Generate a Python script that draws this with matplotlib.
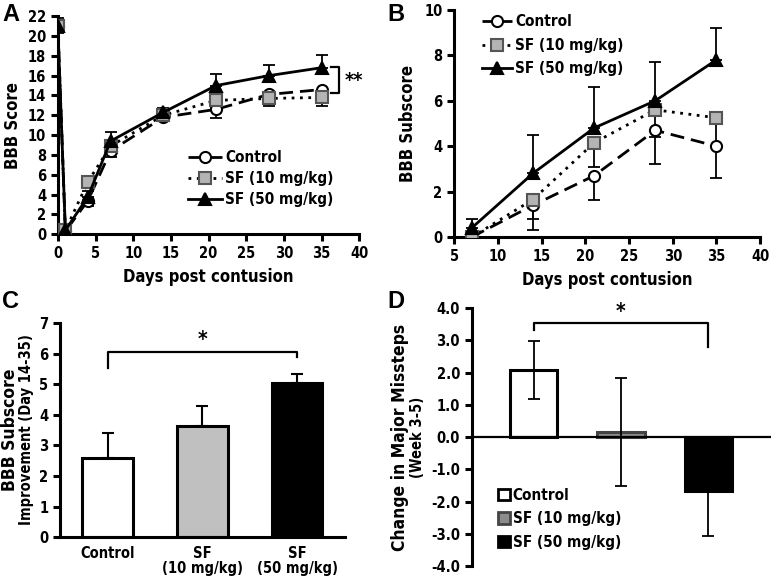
import matplotlib
matplotlib.use("Agg")
import matplotlib.pyplot as plt
from matplotlib.patches import Patch
import numpy as np

plt.rcParams['font.family'] = ['DejaVu Sans']
plt.rcParams['font.stretch'] = 'condensed'
plt.rcParams['font.weight'] = 'bold'

# ---------------- Data ----------------
days_a = [0, 1, 4, 7, 14, 21, 28, 35]
ctrl_a = [21.0, 0.3, 3.4, 8.4, 11.8, 12.6, 14.1, 14.6]
ctrl_a_err = [0.7, 0.2, 0.5, 0.6, 0.4, 0.9, 0.5, 0.8]
sf10_a = [21.0, 0.4, 5.3, 8.9, 12.0, 13.5, 13.7, 13.8]
sf10_a_err = [0.5, 0.2, 0.6, 0.6, 0.4, 0.8, 0.8, 0.9]
sf50_a = [21.0, 0.4, 3.8, 9.4, 12.3, 15.0, 16.0, 16.8]
sf50_a_err = [0.8, 0.2, 0.6, 0.9, 0.4, 1.2, 1.1, 1.3]

days_b = [7, 14, 21, 28, 35]
ctrl_b = [0.0, 1.4, 2.7, 4.7, 4.0]
ctrl_b_err = [0.1, 1.1, 1.05, 1.5, 1.4]
sf10_b = [0.0, 1.65, 4.15, 5.6, 5.25]
sf10_b_err = [0.1, 0.85, 1.05, 1.2, 1.3]
sf50_b = [0.4, 2.8, 4.8, 6.0, 7.8]
sf50_b_err = [0.4, 1.7, 1.8, 1.7, 1.4]

groups_c = ['Control', 'SF\n(10 mg/kg)', 'SF\n(50 mg/kg)']
vals_c = [2.6, 3.65, 5.05]
err_c = [0.8, 0.65, 0.28]

groups_d = ['Control', 'SF (10 mg/kg)', 'SF (50 mg/kg)']
vals_d = [2.08, 0.15, -1.67]
err_d = [0.9, 1.67, 1.4]

series_labels = ['Control', 'SF (10 mg/kg)', 'SF (50 mg/kg)']

# ---------------- Figure ----------------
fig = plt.figure(figsize=(7.71, 5.77), dpi=100)

TICK_FS = 10.5
LAB_FS = 12
LEG_FS = 11
SP_W = 2.2
LETTER = dict(fontsize=17, fontweight='bold', family='Liberation Sans', stretch='normal',
              va='top', ha='left')


def style_axes(ax):
    for s in ['top', 'right']:
        ax.spines[s].set_visible(False)
    for s in ['left', 'bottom']:
        ax.spines[s].set_linewidth(SP_W)
    ax.tick_params(direction='out', width=SP_W, length=5, labelsize=TICK_FS)
    for lab in ax.get_xticklabels() + ax.get_yticklabels():
        lab.set_fontweight('bold')


styles = [
    dict(ls=(0, (5, 2.5)), marker='o', mfc='white', mec='black', color='black', ms=8),
    dict(ls=(0, (1, 2)), marker='s', mfc='#b4b4b4', mec='#555555', color='black', ms=8),
    dict(ls='-', marker='^', mfc='black', mec='black', color='black', ms=9),
]


def line_panel(ax, x, series, errs, dirs):
    handles = []
    for y, e, d, st, lab in zip(series, errs, dirs, styles, series_labels):
        e = np.array(e)
        if d == 'down':
            yerr = [e, np.zeros_like(e)]
        else:
            yerr = [np.zeros_like(e), e]
        ax.errorbar(x, y, yerr=yerr, fmt='none', ecolor='black', elinewidth=1.3,
                    capsize=4, capthick=1.3, zorder=2)
        h, = ax.plot(x, y, linestyle=st['ls'], color=st['color'], lw=2.0,
                     marker=st['marker'], mfc=st['mfc'], mec=st['mec'], mew=1.5,
                     ms=st['ms'], label=lab, zorder=3)
        handles.append(h)
    return handles


# ---- Panel A ----
axA = fig.add_axes([0.075, 0.594, 0.391, 0.378])
hA = line_panel(axA, days_a, [ctrl_a, sf10_a, sf50_a],
                [ctrl_a_err, sf10_a_err, sf50_a_err], ['down', 'down', 'up'])
axA.set_xlim(0, 40)
axA.set_ylim(0, 22)
axA.set_xticks(range(0, 41, 5))
axA.set_yticks(range(0, 23, 2))
axA.set_xlabel('Days post contusion', fontsize=LAB_FS, fontweight='bold', labelpad=5)
axA.set_ylabel('BBB Score', fontsize=LAB_FS, fontweight='bold', labelpad=4)
style_axes(axA)
axA.legend(handles=hA, loc='lower right', bbox_to_anchor=(0.96, 0.06), frameon=False,
           handlelength=2.2, handletextpad=0.2, labelspacing=0.4,
           prop={'weight': 'bold', 'size': LEG_FS, 'stretch': 'condensed'})
# ** bracket
axA.plot([36.3, 37.3, 37.3, 36.3], [16.85, 16.85, 14.2, 14.2], color='black', lw=1.6,
         clip_on=False)
axA.text(38.0, 15.5, '**', fontsize=14, fontweight='bold', va='center', ha='left')
fig.text(0.003, 0.995, 'A', **LETTER)

# ---- Panel B ----
axB = fig.add_axes([0.589, 0.589, 0.397, 0.394])
hB = line_panel(axB, days_b, [ctrl_b, sf10_b, sf50_b],
                [ctrl_b_err, sf10_b_err, sf50_b_err], ['down', 'down', 'up'])
axB.set_xlim(5, 40)
axB.set_ylim(0, 10)
axB.set_xticks(range(5, 41, 5))
axB.set_yticks(range(0, 11, 2))
axB.set_xlabel('Days post contusion', fontsize=LAB_FS, fontweight='bold', labelpad=5)
axB.set_ylabel('BBB Subscore', fontsize=LAB_FS, fontweight='bold', labelpad=5)
style_axes(axB)
axB.legend(handles=hB, loc='upper left', bbox_to_anchor=(0.045, 1.04), frameon=False,
           handlelength=2.0, handletextpad=0.2, labelspacing=0.55,
           prop={'weight': 'bold', 'size': LEG_FS, 'stretch': 'condensed'})
fig.text(0.503, 0.995, 'B', **LETTER)

# ---- Panel C ----
axC = fig.add_axes([0.078, 0.069, 0.369, 0.371])
xc = np.arange(len(groups_c))
axC.bar(xc, vals_c, width=0.53, color=['white', '#c0c0c0', 'black'],
        edgecolor='black', linewidth=2.2, zorder=2)
axC.errorbar(xc, vals_c, yerr=[np.zeros(3), err_c], fmt='none', ecolor='black',
             elinewidth=1.5, capsize=4, capthick=1.5, zorder=3)
axC.set_xlim(-0.5, 2.5)
axC.set_ylim(0, 7)
axC.set_yticks(range(0, 8))
axC.set_xticks(xc)
axC.set_xticklabels(groups_c, fontsize=TICK_FS, fontweight='bold', linespacing=1.0)
style_axes(axC)
axC.tick_params(axis='x', length=0, pad=6)
axC.plot([0, 0, 2, 2], [5.52, 6.05, 6.05, 5.9], color='black', lw=1.6)
axC.text(1.0, 6.12, '*', fontsize=15, fontweight='bold', ha='center', va='bottom')
fig.text(0.013, 0.256, 'BBB Subscore', fontsize=12.5, fontweight='bold',
         rotation=90, ha='center', va='center')
fig.text(0.035, 0.256, 'Improvement (Day 14-35)', fontsize=10.5, fontweight='bold',
         rotation=90, ha='center', va='center')
fig.text(0.003, 0.497, 'C', **LETTER)

# ---- Panel D ----
axD = fig.add_axes([0.612, 0.019, 0.388, 0.447])
xd = np.arange(len(groups_d))
colors_d = ['white', '#8c8c8c', 'black']
edges_d = ['black', '#444444', 'black']
axD.bar(xd, vals_d, width=0.54, color=colors_d, edgecolor=edges_d, linewidth=2.2,
        zorder=2)
axD.errorbar(xd, vals_d, yerr=err_d, fmt='none', ecolor='black', elinewidth=1.3,
             capsize=4, capthick=1.3, zorder=3)
axD.axhline(0, color='black', lw=1.6, zorder=4)
axD.set_xlim(-0.71, 2.72)
axD.set_ylim(-4, 4)
yt = np.arange(-4, 4.1, 1)
axD.set_yticks(yt)
axD.set_yticklabels([f'{v:.1f}' for v in yt])
axD.set_xticks([])
style_axes(axD)
axD.spines['bottom'].set_visible(False)
axD.plot([0, 0, 2, 2], [3.32, 3.53, 3.53, 2.8], color='black', lw=1.6)
axD.text(1.0, 3.58, '*', fontsize=15, fontweight='bold', ha='center', va='bottom')
leg_handles = [Patch(facecolor=c, edgecolor=e, linewidth=2.0) for c, e in zip(colors_d, edges_d)]
axD.legend(leg_handles, groups_d, loc='lower left', bbox_to_anchor=(0.04, 0.01),
           frameon=False, handlelength=0.8, handleheight=0.8, handletextpad=0.2,
           labelspacing=0.55, prop={'weight': 'bold', 'size': LEG_FS, 'stretch': 'condensed'})
fig.text(0.519, 0.242, 'Change in Major Missteps', fontsize=12.5, fontweight='bold',
         rotation=90, ha='center', va='center')
fig.text(0.541, 0.242, '(Week 3-5)', fontsize=10.5, fontweight='bold',
         rotation=90, ha='center', va='center')
fig.text(0.503, 0.497, 'D', **LETTER)

fig.savefig('out.png', dpi=100)
